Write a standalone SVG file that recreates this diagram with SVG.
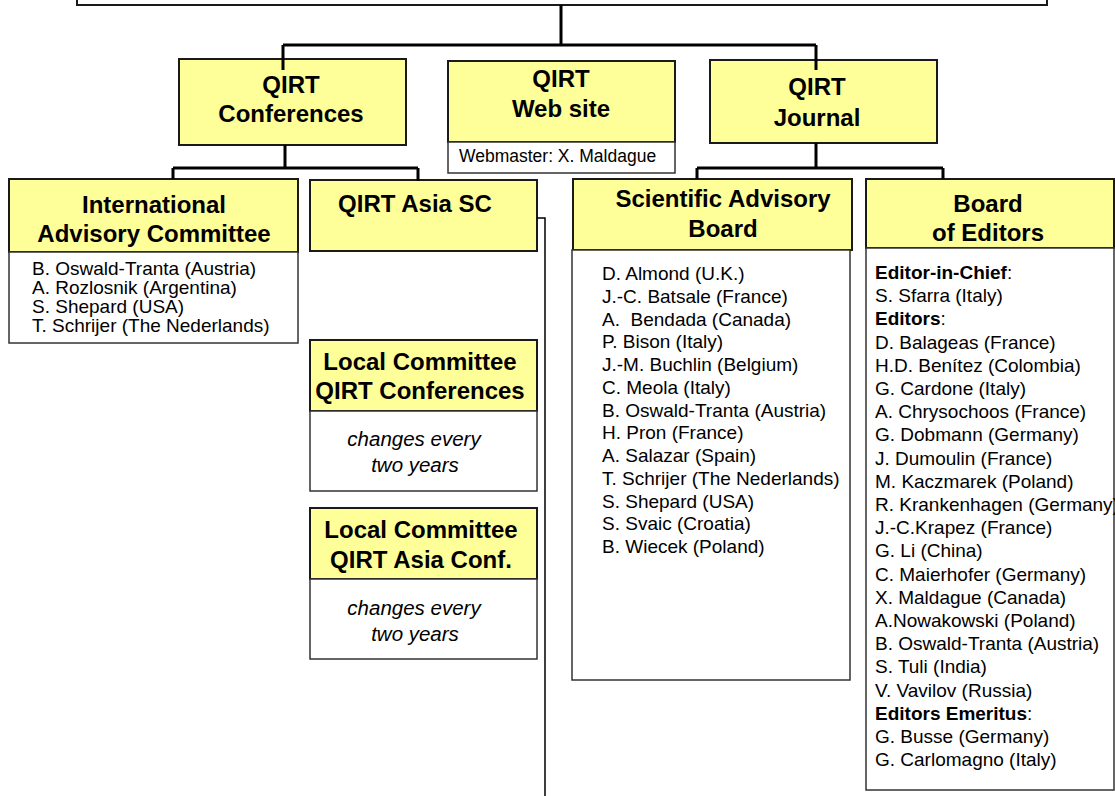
<svg xmlns="http://www.w3.org/2000/svg" width="1115" height="796" viewBox="0 0 1115 796">
<style>
.y{fill:#FFFF99;stroke:#1a1a1a;stroke-width:2}
.w{fill:#fff;stroke:#333;stroke-width:1.5}
.h{font-family:"Liberation Sans",Arial,sans-serif;font-weight:bold;font-size:24px;fill:#000;text-anchor:middle}
.t{font-family:"Liberation Sans",Arial,sans-serif;font-size:19px;fill:#000}
.i{font-family:"Liberation Sans",Arial,sans-serif;font-size:20.5px;font-style:italic;fill:#000;text-anchor:middle}
.b{font-weight:bold}
.c{fill:none;stroke:#000;stroke-width:3}
.c2{fill:none;stroke:#000;stroke-width:1.5}
</style>
<rect x="0" y="0" width="1115" height="796" fill="#fff"/>
<g id="top"><rect x="77" y="-20" width="970" height="25" fill="#fff" stroke="#1a1a1a" stroke-width="2"/></g>
<g id="conferences">
<rect class="y" x="179" y="59" width="227" height="86"/>
<text class="h" x="291" y="93">QIRT</text>
<text class="h" x="291" y="122">Conferences</text>
</g>
<g id="website">
<rect class="y" x="448" y="61" width="227" height="81"/>
<text class="h" x="561" y="87">QIRT</text>
<text class="h" x="561" y="117">Web site</text>
<rect class="w" x="448" y="142" width="227" height="31"/>
<text class="t" x="459" y="162" style="font-size:17.5px">Webmaster: X. Maldague</text>
</g>
<g id="journal">
<rect class="y" x="710" y="60" width="227" height="83"/>
<text class="h" x="817" y="95">QIRT</text>
<text class="h" x="817" y="126">Journal</text>
</g>
<g id="iac">
<rect class="y" x="9" y="179" width="289" height="73"/>
<text class="h" x="154" y="213">International</text>
<text class="h" x="154" y="242">Advisory Committee</text>
<rect class="w" x="9" y="252" width="289" height="91"/>
<text class="t"><tspan x="32" y="275">B. Oswald-Tranta (Austria)</tspan><tspan x="32" y="294">A. Rozlosnik (Argentina)</tspan><tspan x="32" y="313">S. Shepard (USA)</tspan><tspan x="32" y="332">T. Schrijer (The Nederlands)</tspan></text>
</g>
<g id="asia-sc">
<rect class="y" x="310" y="180" width="227" height="71"/>
<text class="h" x="415" y="212">QIRT Asia SC</text>
</g>
<g id="local-conf">
<rect class="y" x="310" y="340" width="227" height="71"/>
<text class="h" x="420" y="370">Local Committee</text>
<text class="h" x="420" y="399">QIRT Conferences</text>
<rect class="w" x="310" y="411" width="227" height="80"/>
<text class="i" x="414" y="446">changes every</text>
<text class="i" x="415" y="472">two years</text>
</g>
<g id="local-asia">
<rect class="y" x="310" y="508" width="227" height="71"/>
<text class="h" x="421" y="538">Local Committee</text>
<text class="h" x="421" y="568">QIRT Asia Conf.</text>
<rect class="w" x="310" y="579" width="227" height="80"/>
<text class="i" x="414" y="615">changes every</text>
<text class="i" x="415" y="641">two years</text>
</g>
<g id="sab">
<rect class="y" x="573" y="179" width="279" height="71"/>
<text class="h" x="723" y="207">Scientific Advisory</text>
<text class="h" x="723" y="237">Board</text>
<rect class="w" x="572" y="250" width="278" height="430"/>
<text class="t" xml:space="preserve"><tspan x="602" y="280">D. Almond (U.K.)</tspan><tspan x="602" y="302.75">J.-C. Batsale (France)</tspan><tspan x="602" y="325.5">A.  Bendada (Canada)</tspan><tspan x="602" y="348.25">P. Bison (Italy)</tspan><tspan x="602" y="371">J.-M. Buchlin (Belgium)</tspan><tspan x="602" y="393.75">C. Meola (Italy)</tspan><tspan x="602" y="416.5">B. Oswald-Tranta (Austria)</tspan><tspan x="602" y="439.25">H. Pron (France)</tspan><tspan x="602" y="462">A. Salazar (Spain)</tspan><tspan x="602" y="484.75">T. Schrijer (The Nederlands)</tspan><tspan x="602" y="507.5">S. Shepard (USA)</tspan><tspan x="602" y="530.25">S. Svaic (Croatia)</tspan><tspan x="602" y="553">B. Wiecek (Poland)</tspan></text>
</g>
<g id="boe">
<rect class="y" x="866" y="179" width="248" height="69"/>
<text class="h" x="988" y="212">Board</text>
<text class="h" x="988" y="241">of Editors</text>
<rect class="w" x="866" y="248" width="248" height="542"/>
<text class="t" xml:space="preserve"><tspan x="875" y="279"><tspan class="b">Editor-in-Chief</tspan>:</tspan><tspan x="875" y="302.2">S. Sfarra (Italy)</tspan><tspan x="875" y="325.4"><tspan class="b">Editors</tspan>:</tspan><tspan x="875" y="348.6">D. Balageas (France)</tspan><tspan x="875" y="371.8">H.D. Benítez (Colombia)</tspan><tspan x="875" y="395">G. Cardone (Italy)</tspan><tspan x="875" y="418.2">A. Chrysochoos (France)</tspan><tspan x="875" y="441.4">G. Dobmann (Germany)</tspan><tspan x="875" y="464.6">J. Dumoulin (France)</tspan><tspan x="875" y="487.8">M. Kaczmarek (Poland)</tspan><tspan x="875" y="511">R. Krankenhagen (Germany)</tspan><tspan x="875" y="534.2">J.-C.Krapez (France)</tspan><tspan x="875" y="557.4">G. Li (China)</tspan><tspan x="875" y="580.6">C. Maierhofer (Germany)</tspan><tspan x="875" y="603.8">X. Maldague (Canada)</tspan><tspan x="875" y="627">A.Nowakowski (Poland)</tspan><tspan x="875" y="650.2">B. Oswald-Tranta (Austria)</tspan><tspan x="875" y="673.4">S. Tuli (India)</tspan><tspan x="875" y="696.6">V. Vavilov (Russia)</tspan><tspan x="875" y="719.8"><tspan class="b">Editors Emeritus</tspan>:</tspan><tspan x="875" y="743">G. Busse (Germany)</tspan><tspan x="875" y="766.2">G. Carlomagno (Italy)</tspan></text>
</g>
<g id="connectors">
<path class="c" d="M561 5V45M283 45H816M283 45V70M816 45V70"/>
<path class="c" d="M285 145V168M173 168H418M173 168V179M418 168V181"/>
<path class="c" d="M816 143V168M697 168H943M697 168V179M943 168V179"/>
<path class="c2" d="M537 218H545V796"/>
</g>
</svg>
